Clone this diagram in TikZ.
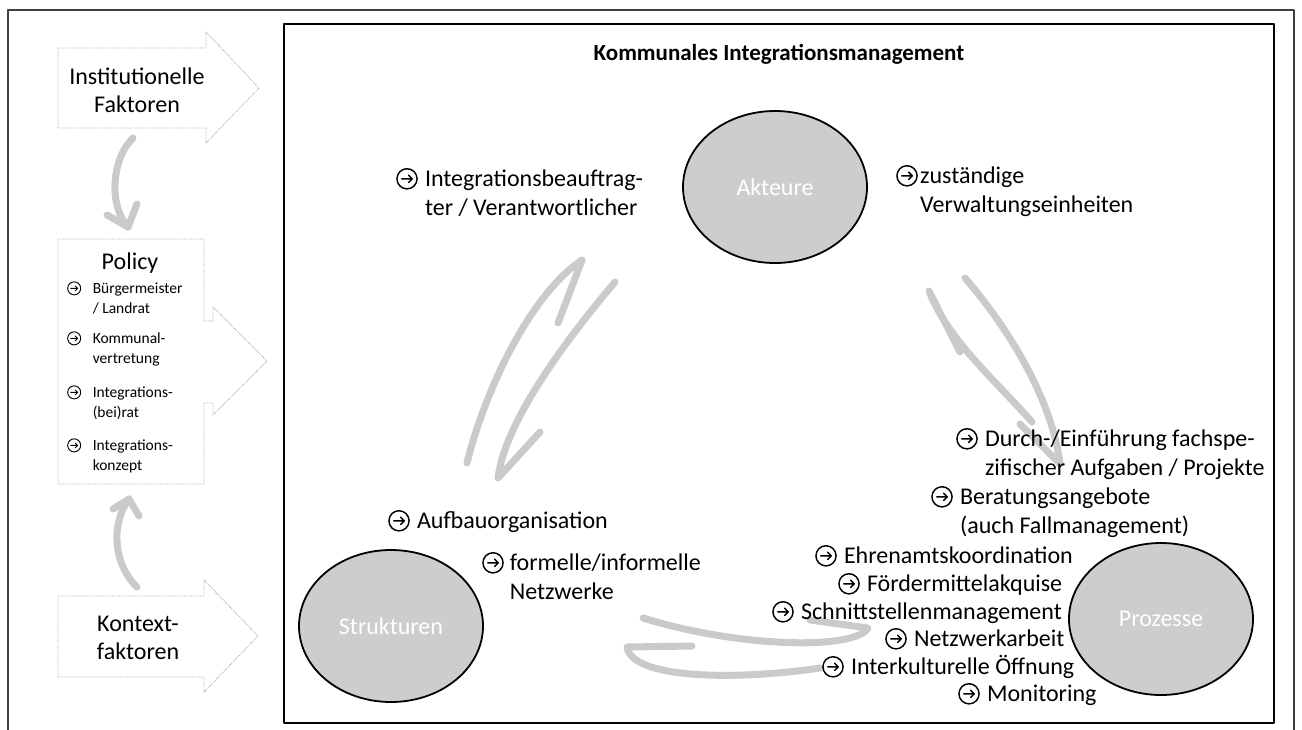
\documentclass[tikz,border=0pt]{standalone}
\usepackage{fontspec}
\setmainfont{Carlito}
\usepackage{tikz}
\usetikzlibrary{shapes}
\definecolor{kreisgrau}{RGB}{205,205,205}
\definecolor{pfeilgrau}{RGB}{202,202,202}
\definecolor{rahmengrau}{RGB}{64,64,64}
\newcommand{\pfk}{\tikz[baseline=0pt,x=1em,y=1em,line width=0.06em,line cap=round,line join=round]{\draw (0.46,0.3) circle (0.42); \draw (0.24,0.3) -- (0.68,0.3) (0.53,0.45) -- (0.68,0.3) -- (0.53,0.15);}}
\newcommand{\luecke}[1]{\hphantom{\pfk\hspace{#1}}}

\begin{document}
\begin{tikzpicture}[x=1pt,y=-1pt,line join=round,
  kreis/.style={ellipse,draw=black,line width=1.8pt,fill=kreisgrau,minimum width=184pt,minimum height=152pt,inner sep=0pt,text=white,font=\fontsize{24}{29}\selectfont},
  pfeil/.style={draw=pfeilgrau,line width=7pt,line cap=round,line join=round},
  umriss/.style={draw=gray!70,line width=0.8pt,densely dotted},
  txt/.style={anchor=base west,inner sep=0pt,align=left,font=\fontsize{24}{29}\selectfont},
  klein/.style={anchor=base west,inner sep=0pt,align=left,font=\fontsize{15.5}{20}\selectfont},
  gross/.style={align=center,inner sep=0pt,font=\fontsize{24}{28}\selectfont},
  ]
\useasboundingbox (0,0) rectangle (1302,729);
%%
\draw [rahmengrau,line width=2pt] (8,729.5) -- (8,10) -- (1294,10) -- (1294,729.5);
\draw [black,line width=1.5pt] (284,24) rectangle (1274,723);
%% linke Spalte
\draw [umriss] (58,48) -- (206,48) -- (206,32) -- (259,88) -- (206,143) -- (206,128) -- (58,128) -- cycle;
\draw [umriss] (58,239) -- (204,239) -- (204,321) -- (213,321) -- (213,307) -- (267,361) -- (213,415) -- (213,403) -- (204,403) -- (204,484) -- (58,484) -- cycle;
\draw [umriss] (58,596) -- (204,596) -- (204,580) -- (258,636) -- (204,692) -- (204,677) -- (58,677) -- cycle;
\node (institutionell) at (137,90) [gross] {Institutionelle\\Faktoren};
\node (policy) at (130,263) [gross] {Policy};
\node (kontext) at (138,638) [gross] {Kontext-\\faktoren};
% base = letzte Zeile
\node (buergermeister) at (67,313) [klein] {\pfk\hspace{0.75em}Bürgermeister\\\luecke{0.75em}/ Landrat};
\node (vertretung) at (67,363) [klein] {\pfk\hspace{0.75em}Kommunal-\\\luecke{0.75em}vertretung};
\node (beirat) at (67,417) [klein] {\pfk\hspace{0.75em}Integrations-\\\luecke{0.75em}(bei)rat};
\node (konzept) at (67,470) [klein] {\pfk\hspace{0.75em}Integrations-\\\luecke{0.75em}konzept};
\coordinate (g1) at (133,138);
\coordinate (g2) at (128,227);
\coordinate (h1) at (137,587);
\coordinate (h2) at (129,499);
\draw [pfeil] (g1) .. controls (112,158) and (108,205) .. (g2);
\draw [pfeil] (107,215) -- (g2) -- (137,204);
\draw [pfeil] (h1) .. controls (114,565) and (110,525) .. (h2);
\draw [pfeil] (113,509) -- (h2) -- (139,516);
%% Kreislauf
\coordinate (a1) at (467,463);
\coordinate (a2) at (582,260);
\coordinate (b1) at (615,282);
\coordinate (b2) at (498,478);
\coordinate (c1) at (1032,422);
\coordinate (c2) at (929,291);
\coordinate (d1) at (965,278);
\coordinate (d2) at (1060,464);
\coordinate (e1) at (643,618);
\coordinate (e2) at (868,628);
\coordinate (f1) at (820,668);
\coordinate (f2) at (627,647);
\draw [pfeil] (a1) ..controls (485,390) and (530,295) .. (a2) -- (558,323);
\draw [pfeil] (b1) ..controls (570,335) and (505,420) .. (b2) -- (540,432);
\draw [pfeil] (c1) ..controls (995,380) and (948,340) .. (c2) -- (960,352);
\draw [pfeil] (d1) ..controls (1010,330) and (1052,400) .. (d2) -- (1020,424);
\draw [pfeil] (e1) ..controls (740,648) and (855,650) .. (e2) -- (810,620);
\draw [pfeil] (f1) ..controls (740,680) and (632,680) .. (f2) -- (692,646);
%
\node (akteure) at (775,187) [kreis] {Akteure};
\node (strukturen) at (391,626) [kreis] {Strukturen};
\node (prozesse) at (1161,619) [kreis] {Prozesse};
\node (titel) at (779,54) [font=\fontsize{23}{28}\selectfont\bfseries] {Kommunales Integrationsmanagement};
%% Texte
\node (beauftragter) at (396,215) [txt] {\pfk\hspace{0.3em}Integrationsbeauftrag-\\\luecke{0.3em}ter / Verantwortlicher};
\node (verwaltung) at (896,212) [txt] {\pfk\hspace{0.1em}zuständige\\\luecke{0.1em}Verwaltungseinheiten};
\node (aufbau) at (388,528) [txt] {\pfk\hspace{0.3em}Aufbauorganisation};
\node (netzwerke) at (482,599) [txt] {\pfk\hspace{0.25em}formelle/informelle\\\luecke{0.25em}Netzwerke};
\node (durchfuehrung) at (956,475) [txt] {\pfk\hspace{0.3em}Durch-/Einführung fachspe-\\\luecke{0.3em}zifischer Aufgaben / Projekte};
\node (beratung) at (931,533) [txt] {\pfk\hspace{0.3em}Beratungsangebote\\\luecke{0.3em}(auch Fallmanagement)};
\node (ehrenamt) at (815,563) [txt] {\pfk\hspace{0.3em}Ehrenamtskoordination};
\node (foerdermittel) at (838,591) [txt] {\pfk\hspace{0.3em}Fördermittelakquise};
\node (schnittstellen) at (772,619) [txt] {\pfk\hspace{0.3em}Schnittstellenmanagement};
\node (netzwerkarbeit) at (885,646) [txt] {\pfk\hspace{0.3em}Netzwerkarbeit};
\node (oeffnung) at (822,674) [txt] {\pfk\hspace{0.3em}Interkulturelle Öffnung};
\node (monitoring) at (958,701) [txt] {\pfk\hspace{0.3em}Monitoring};
%
\end{tikzpicture}
\end{document}
